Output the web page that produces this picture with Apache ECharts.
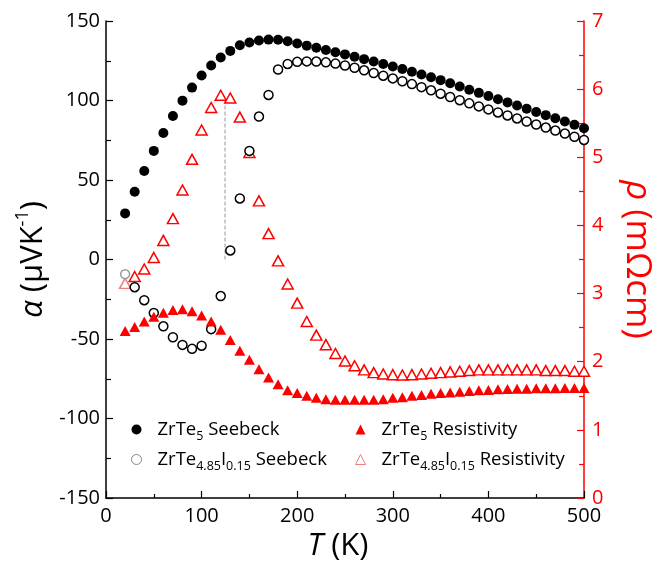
<!DOCTYPE html>
<html>
<head>
<meta charset="utf-8">
<script src="https://cdn.jsdelivr.net/npm/echarts@6/dist/echarts.min.js"></script>
<style>
html,body{margin:0;padding:0;background:#fff;}
#main{width:670px;height:563px;}
</style>
</head>
<body>
<div id="main"></div>
<script>
// Temperature (K)
const temperature = [20,30,40,50,60,70,80,90,100,110,120,130,140,150,160,170,180,190,200,
  210,220,230,240,250,260,270,280,290,300,310,320,330,340,350,
  360,370,380,390,400,410,420,430,440,450,460,470,480,490,500];
// Seebeck coefficient (uV/K)
const seebeckZrTe5 = [29.0,42.6,55.7,68.3,79.6,90.3,99.9,108.1,115.7,122.0,127.0,131.2,134.8,136.5,137.7,138.3,138.2,137.3,135.8,
  134.5,133.2,131.8,130.4,129.0,127.5,126.0,124.5,123.0,121.4,119.8,118.1,116.4,114.6,112.8,
  110.8,108.8,106.8,104.8,102.8,100.8,98.8,96.8,94.8,92.8,90.8,88.8,86.8,84.7,82.6];
const seebeckZrTeI = [-9.2,-17.4,-25.6,-33.6,-42.0,-48.9,-53.7,-56.2,-54.2,-43.8,-23.0,5.7,38.4,68.3,89.9,103.5,119.5,123.0,124.3,
  124.6,124.5,124.0,123.2,122.0,120.6,119.0,117.3,115.6,113.9,112.1,110.3,108.4,106.4,104.3,
  102.2,100.2,98.2,96.3,94.4,92.5,90.6,88.7,86.8,84.9,83.0,81.1,79.2,77.2,75.2];
// Resistivity (mOhm cm)
const rhoZrTe5 = [2.45,2.51,2.59,2.66,2.72,2.76,2.77,2.74,2.68,2.59,2.47,2.32,2.16,2.03,1.89,1.77,1.67,1.58,1.54,
  1.50,1.47,1.45,1.44,1.44,1.44,1.44,1.44,1.45,1.47,1.48,1.50,1.51,1.53,1.54,
  1.55,1.56,1.57,1.58,1.585,1.595,1.60,1.605,1.605,1.61,1.61,1.61,1.615,1.615,1.615];
const rhoZrTeI = [3.15,3.25,3.36,3.53,3.78,4.10,4.52,4.97,5.40,5.73,5.91,5.87,5.59,5.07,4.36,3.88,3.48,3.14,2.86,
  2.59,2.39,2.25,2.12,2.01,1.94,1.88,1.84,1.82,1.81,1.805,1.81,1.82,1.83,1.84,
  1.85,1.86,1.87,1.88,1.88,1.88,1.88,1.88,1.88,1.88,1.87,1.87,1.87,1.86,1.86];
// Dashed guide line (T, alpha)
const guideT = [124.5, 124.5];
const guideAlpha = [0, 99.5];

const seriesNames = ['ZrTe5 Seebeck','ZrTe4.85I0.15 Seebeck','ZrTe5 Resistivity','ZrTe4.85I0.15 Resistivity'];
const legendRich = [
  '{sp|}{n|ZrTe}{s|5}{n| Seebeck}',
  '{sp|}{n|ZrTe}{s|4.85}{n|I}{s|0.15}{n| Seebeck}',
  '{sp|}{n|ZrTe}{s|5}{n| Resistivity}',
  '{sp|}{n|ZrTe}{s|4.85}{n|I}{s|0.15}{n| Resistivity}'
];

const FONT = 'Open Sans';
function pairs(xs, ys){ return xs.map((x,i)=>[x, ys[i]]); }

const chart = echarts.init(document.getElementById('main'), null, {renderer:'canvas'});
const richText = {
  sp: {width: 11, fontSize: 18.5, lineHeight: 20},
  n: {fontSize: 18.5, fontFamily: FONT, color:'#000', lineHeight: 20},
  s: {fontSize: 12.5, fontFamily: FONT, color:'#000', lineHeight: 14, padding: [14,0,0,0]}
};
const legendBase = {
  orient: 'vertical',
  itemWidth: 10,
  itemHeight: 10,
  itemGap: 3,
  top: 411,
  selectedMode: false,
  formatter: function(name){ return legendRich[seriesNames.indexOf(name)]; },
  textStyle: {rich: richText, fontFamily: FONT, fontSize: 18.5}
};

chart.setOption({
  animation: false,
  backgroundColor: '#fff',
  grid: {left: 106, right: 86, top: 21, bottom: 65, containLabel: false, outerBoundsMode: 'none'},
  legend: [
    Object.assign({}, legendBase, {left: 126, data: [
      {name: seriesNames[0], itemStyle: {color: '#000'}},
      {name: seriesNames[1], itemStyle: {color: '#fff', borderColor: '#888', borderWidth: 1}}
    ]}),
    Object.assign({}, legendBase, {left: 350, data: [
      {name: seriesNames[2], itemStyle: {color: '#f00'}},
      {name: seriesNames[3], itemStyle: {color: '#fff', borderColor: '#f08080', borderWidth: 1}}
    ]})
  ],
  xAxis: {
    type: 'value', min: 0, max: 500, interval: 100,
    name: '{i|T} (K)', nameLocation: 'middle', nameGap: 31,
    nameTextStyle: {fontSize: 31, fontFamily: FONT, color: '#000', padding: [0, 14, 0, 0],
      rich: {i: {fontSize: 31, fontFamily: FONT, fontStyle: 'italic', color: '#000'}}},
    axisLine: {onZero: false, lineStyle: {color: '#000', width: 1.5}},
    axisTick: {inside: true, length: 7, lineStyle: {color: '#000', width: 1.2}},
    minorTick: {show: true, splitNumber: 2, length: 4, lineStyle: {color: '#000', width: 1.2}},
    axisLabel: {fontSize: 20, fontFamily: FONT, color: '#000', margin: 8},
    splitLine: {show: false}
  },
  yAxis: [
    {
      type: 'value', min: -150, max: 150, interval: 50, position: 'left',
      name: '{i|α} (μVK{sup|-1})', nameLocation: 'middle', nameGap: 50, nameRotate: 90,
      nameTextStyle: {fontSize: 31, fontFamily: FONT, color: '#000',
        rich: {
          i: {fontSize: 31, fontFamily: FONT, fontStyle: 'italic', color: '#000'},
          sup: {fontSize: 18, fontFamily: FONT, color: '#000', padding: [0,0,20,0]}
        }},
      axisLine: {show: true, onZero: false, lineStyle: {color: '#000', width: 1.5}},
      axisTick: {inside: true, length: 7, lineStyle: {color: '#000', width: 1.2}},
      minorTick: {show: true, splitNumber: 2, length: 5, lineStyle: {color: '#000', width: 1.2}},
      axisLabel: {fontSize: 20, fontFamily: FONT, color: '#000', margin: 6},
      splitLine: {show: false}
    },
    {
      type: 'value', min: 0, max: 7, interval: 1, position: 'right',
      name: '{i|ρ} (mΩcm)', nameLocation: 'middle', nameGap: 35, nameRotate: -90,
      nameTextStyle: {fontSize: 35, fontFamily: FONT, color: '#f00',
        rich: {i: {fontSize: 35, fontFamily: FONT, fontStyle: 'italic', color: '#f00'}}},
      axisLine: {show: true, onZero: false, lineStyle: {color: '#f00', width: 1.5}},
      axisTick: {inside: true, length: 7, lineStyle: {color: '#f00', width: 1.2}},
      minorTick: {show: true, splitNumber: 2, length: 5, lineStyle: {color: '#f00', width: 1.2}},
      axisLabel: {fontSize: 20, fontFamily: FONT, color: '#f00', margin: 8},
      splitLine: {show: false}
    }
  ],
  series: [
    {
      name: 'guide', type: 'line', yAxisIndex: 0, silent: true, symbol: 'none',
      data: pairs(guideT, guideAlpha),
      lineStyle: {type: 'dashed', color: '#999', width: 1}, z: 1
    },
    {
      name: seriesNames[3], type: 'scatter', yAxisIndex: 1, symbol: 'triangle', symbolSize: [11,10],
      data: pairs(temperature, rhoZrTeI).map((p,i)=> i===0 ? {value:p, itemStyle:{borderColor:'#f08080'}} : p),
      itemStyle: {color: '#fff', borderColor: '#f00', borderWidth: 1.5, opacity: 1}, z: 2
    },
    {
      name: seriesNames[1], type: 'scatter', yAxisIndex: 0, symbol: 'circle', symbolSize: 9,
      data: pairs(temperature, seebeckZrTeI).map((p,i)=> i===0 ? {value:p, itemStyle:{borderColor:'#999'}} : p),
      itemStyle: {color: '#fff', borderColor: '#000', borderWidth: 1.5, opacity: 1}, z: 3
    },
    {
      name: seriesNames[2], type: 'scatter', yAxisIndex: 1, symbol: 'triangle', symbolSize: [11,10],
      data: pairs(temperature, rhoZrTe5),
      itemStyle: {color: '#f00', opacity: 1}, z: 4
    },
    {
      name: seriesNames[0], type: 'scatter', yAxisIndex: 0, symbol: 'circle', symbolSize: 10,
      data: pairs(temperature, seebeckZrTe5),
      itemStyle: {color: '#000', opacity: 1}, z: 5
    }
  ]
});
</script>
</body>
</html>
